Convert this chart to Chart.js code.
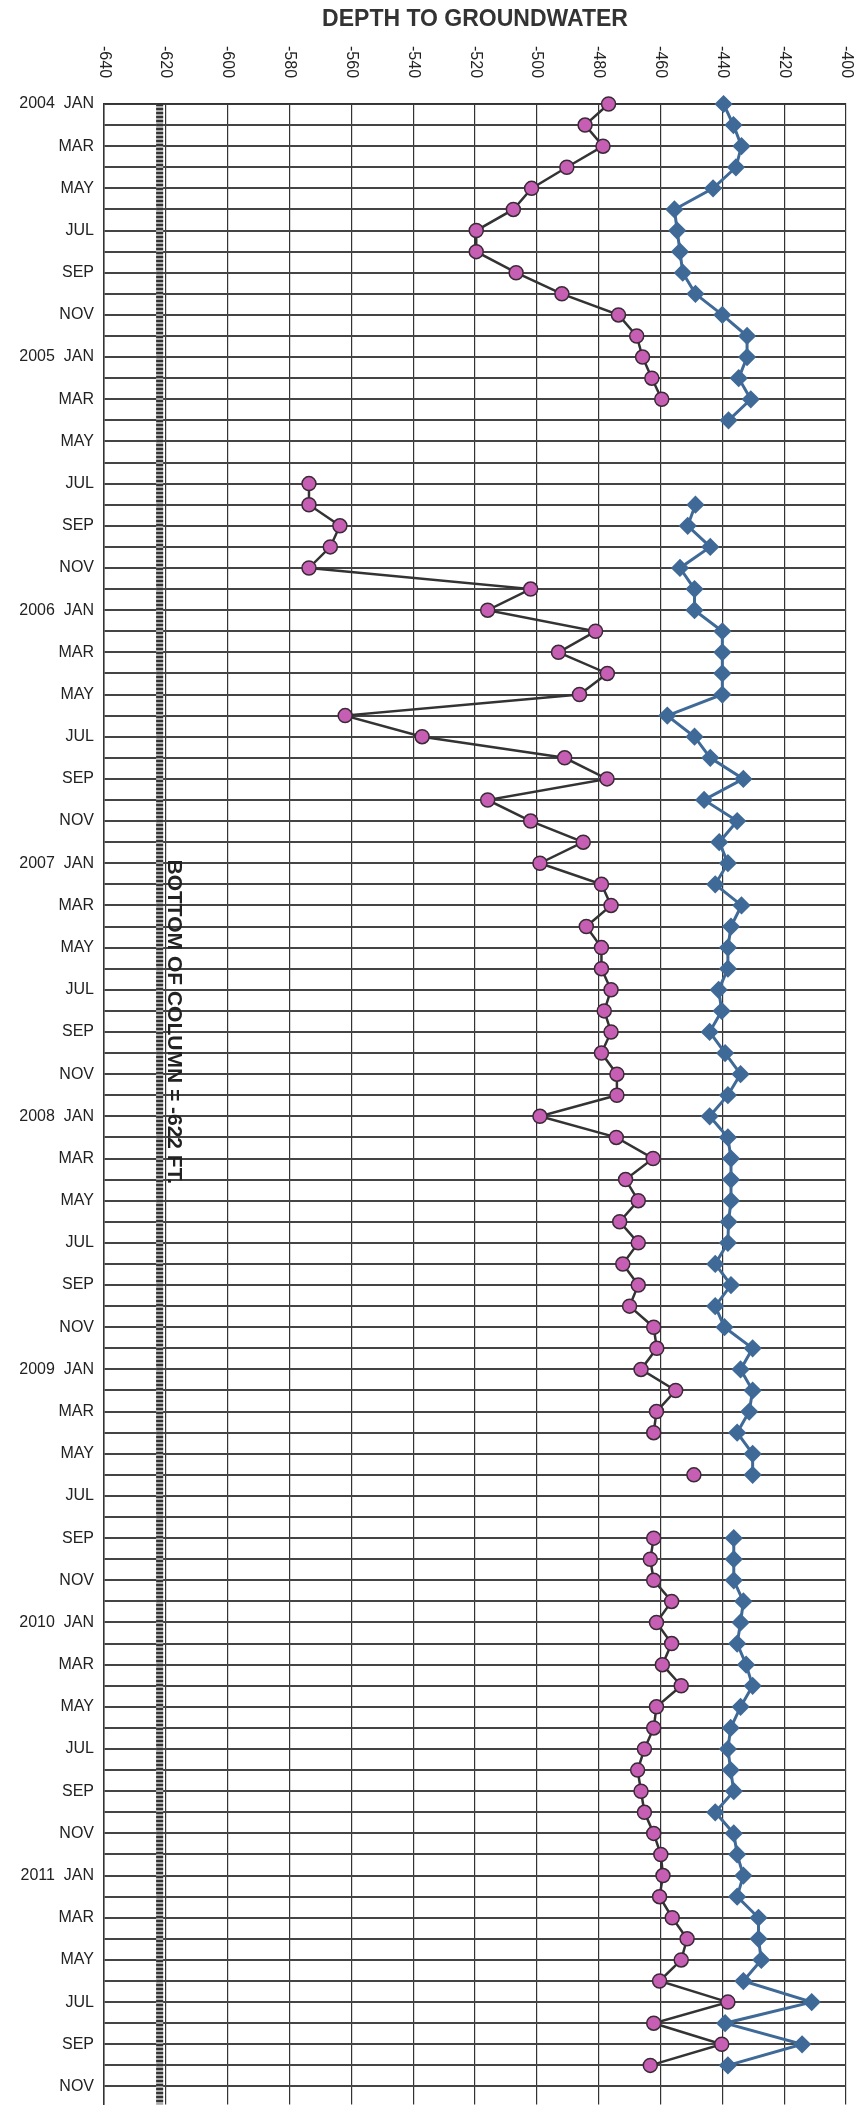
<!DOCTYPE html>
<html>
<head>
<meta charset="utf-8">
<script src="https://cdn.jsdelivr.net/npm/chart.js@4.4.0/dist/chart.umd.min.js"></script>
<style>
  html, body { margin: 0; padding: 0; background: #fff; }
  #wrap { width: 857px; height: 2124px; }
</style>
</head>
<body>
<div id="wrap"><canvas id="chart" width="857" height="2124"></canvas></div>
<script>
// months from 2004 JAN to 2011 NOV
const years = [2004, 2005, 2006, 2007, 2008, 2009, 2010, 2011];
const monthNames = ['JAN', 'FEB', 'MAR', 'APR', 'MAY', 'JUN', 'JUL', 'AUG', 'SEP', 'OCT', 'NOV', 'DEC'];
const monthCount = 95;

const monthLabels = [];
for (let i = 0; i < monthCount; i++) {
  const m = i % 12;
  const y = years[Math.floor(i / 12)];
  monthLabels.push(m === 0 ? `${y}  ${monthNames[m]}` : monthNames[m]);
}

const xTicks = [-640, -620, -600, -580, -560, -540, -520, -500, -480, -460, -440, -420, -400];
const columnBottom = -622;

// pink circles (one per month, null = no reading)
const wellA = [
  -476.8, -484.4, -478.6, -490.3, -501.7, -507.6, -519.6, -519.6, -506.7, -491.9, -473.6, -467.7,
  -465.8, -462.8, -459.6, null, null, null, -573.7, -573.7, -563.7, -566.8, -573.7, -502,
  -515.9, -481, -493, -477.2, -486.2, -562, -537.1, -491, -477.3, -515.9, -502, -485,
  -499, -479.1, -476, -484, -479.1, -479.1, -476, -478.2, -476, -479.1, -474.1, -474.1,
  -499, -474.3, -462.4, -471.3, -467.2, -473.2, -467.2, -472.2, -467.2, -470, -462.2, -461.2,
  -466.3, -455.1, -461.3, -462.2, null, -449.2, null, null, -462.2, -463.3, -462.2, -456.4,
  -461.3, -456.4, -459.4, -453.3, -461.3, -462.2, -465.2, -467.4, -466.3, -465.2, -462.2, -459.9,
  -459.2, -460.3, -456.2, -451.4, -453.3, -460.3, -438.2, -462.2, -440.2, -463.3, null
];

// blue diamonds
const wellB = [
  -439.6, -436.4, -433.8, -435.6, -443, -455.5, -454.6, -453.7, -452.8, -448.7, -440, -432,
  -432, -434.7, -430.8, -438, null, null, null, -448.7, -451.2, -443.9, -453.7, -449,
  -449, -440, -440, -440, -440, -457.8, -449, -443.9, -433.2, -445.9, -435.2, -441,
  -438.2, -442.3, -433.8, -437.2, -438.2, -438.2, -441.2, -440.2, -444.1, -439.1, -434.1, -438.2,
  -444.1, -438.2, -437.2, -437.2, -437.2, -438, -438.2, -442.3, -437.2, -442.3, -439.3, -430.2,
  -434.1, -430.2, -431.3, -435.2, -430.2, -430.2, null, null, -436.3, -436.3, -436.3, -433.2,
  -434.1, -435.2, -432.3, -430.2, -434.1, -437.3, -438.2, -437.3, -436.3, -442.3, -436.3, -435.2,
  -433.2, -435.2, -428.3, -428.3, -427.4, -433.2, -411.1, -439.1, -414.2, -438.2, null
];

const toPoints = arr => arr.map((v, i) => ({ x: v, y: i }));
const columnPoints = [{ x: columnBottom, y: 0 }, { x: columnBottom, y: 94.85 }];

const titlePlugin = {
  id: 'extras',
  afterDraw(chart) {
    const { ctx, scales } = chart;
    const xs = scales.x, ys = scales.y;
    ctx.save();
    ctx.fillStyle = '#333';
    ctx.font = 'bold 23px "Liberation Sans", Arial, sans-serif';
    ctx.textAlign = 'center';
    ctx.textBaseline = 'middle';
    ctx.fillText('DEPTH TO GROUNDWATER', (xs.left + xs.right) / 2, 20);

    // rotated x tick labels reading top to bottom
    ctx.font = '16px "Liberation Sans", Arial, sans-serif';
    ctx.fillStyle = '#222';
    ctx.textAlign = 'left';
    xTicks.forEach(v => {
      ctx.save();
      ctx.translate(xs.getPixelForValue(v), 46);
      ctx.rotate(Math.PI / 2);
      ctx.fillText(String(v), 0, 0);
      ctx.restore();
    });

    // bottom of column note
    ctx.save();
    ctx.translate(xs.getPixelForValue(-617.5), ys.getPixelForValue(36.2));
    ctx.rotate(Math.PI / 2);
    ctx.font = 'bold 21px "Liberation Sans", Arial, sans-serif';
    ctx.fillStyle = '#222';
    ctx.textAlign = 'left';
    ctx.textBaseline = 'middle';
    ctx.fillText('BOTTOM OF COLUMN = -622 FT.', -8, 0);
    ctx.restore();
    ctx.restore();
  }
};

new Chart(document.getElementById('chart'), {
  type: 'line',
  data: {
    datasets: [
      {
        data: columnPoints,
        borderColor: '#aaa',
        borderWidth: 7,
        pointRadius: 0,
        order: 5
      },
      {
        data: columnPoints,
        borderColor: '#333',
        borderWidth: 7,
        borderDash: [2, 2],
        pointRadius: 0,
        order: 4
      },
      {
        data: toPoints(wellA),
        borderColor: '#333',
        borderWidth: 2.5,
        pointStyle: 'circle',
        pointRadius: 7,
        pointBackgroundColor: '#c65fb3',
        pointBorderColor: '#3a2a36',
        pointBorderWidth: 1.5,
        spanGaps: false,
        clip: false,
        order: 1
      },
      {
        data: toPoints(wellB),
        borderColor: '#3f6a98',
        borderWidth: 3,
        pointStyle: 'rectRot',
        pointRadius: 7,
        pointBackgroundColor: '#3f6a98',
        pointBorderColor: '#3f6a98',
        spanGaps: false,
        clip: false,
        order: 2
      }
    ]
  },
  options: {
    responsive: false,
    animation: false,
    layout: { padding: { top: 40, right: 11, left: 0, bottom: 0 } },
    plugins: { legend: { display: false }, tooltip: { enabled: false } },
    scales: {
      x: {
        type: 'linear',
        position: 'top',
        min: -640,
        max: -400,
        ticks: { stepSize: 20, display: false },
        grid: { color: '#333', lineWidth: 1.2, drawTicks: false },
        border: { color: '#333', width: 1.5 },
        afterFit(scale) { scale.height = 64; }
      },
      y: {
        type: 'linear',
        reverse: true,
        min: 0,
        max: 94.85,
        afterBuildTicks(scale) {
          scale.ticks = monthLabels.map((l, i) => ({ value: i }));
        },
        ticks: {
          autoSkip: false,
          padding: 10,
          color: '#222',
          font: { size: 16, family: '"Liberation Sans", Arial, sans-serif' },
          callback: v => (v % 2 === 0 ? monthLabels[v] : '')
        },
        grid: { color: '#444', lineWidth: 2, drawTicks: false },
        border: { color: '#333', width: 1.5 },
        afterFit(scale) { scale.width = 104; }
      }
    }
  },
  plugins: [titlePlugin]
});
</script>
</body>
</html>
